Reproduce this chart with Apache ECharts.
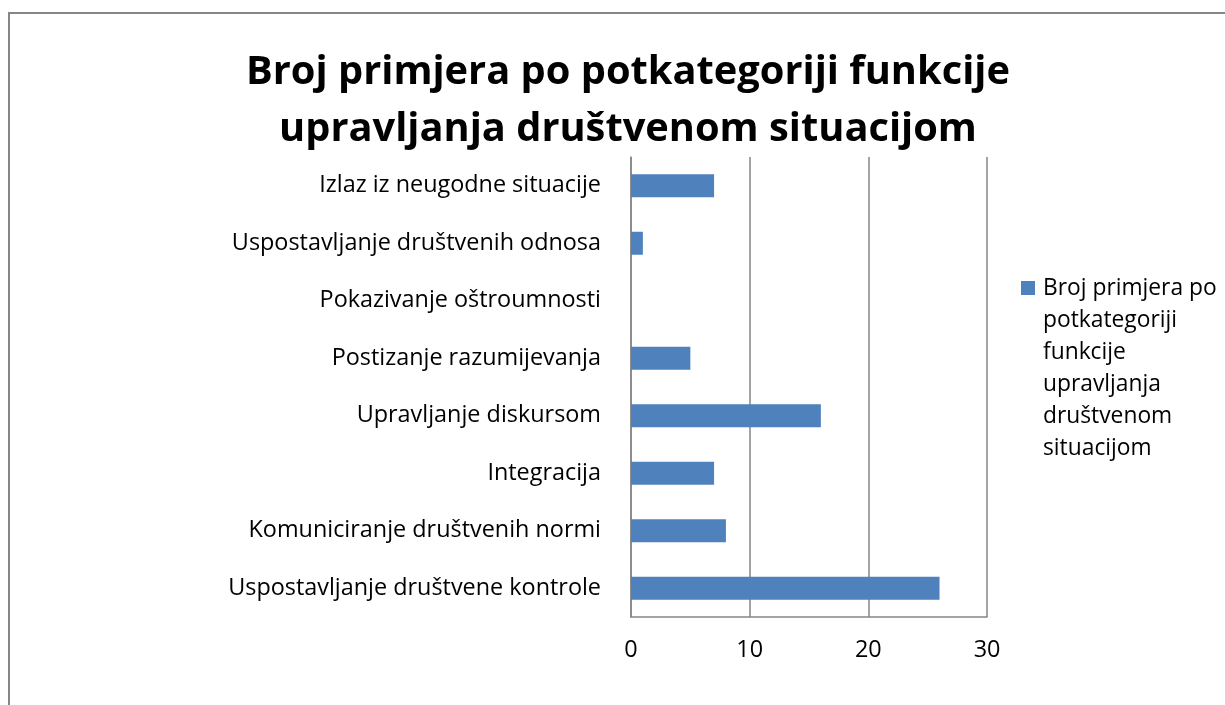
<!DOCTYPE html>
<html><head><meta charset="utf-8">
<script src="https://cdn.jsdelivr.net/npm/echarts@6/dist/echarts.min.js"></script>
<style>html,body{margin:0;padding:0;background:#fff}#c{width:1225px;height:705px}</style>
</head><body><div id="c"></div>
<script>
var categories = [
  "Izlaz iz neugodne situacije",
  "Uspostavljanje društvenih odnosa",
  "Pokazivanje oštroumnosti",
  "Postizanje razumijevanja",
  "Upravljanje diskursom",
  "Integracija",
  "Komuniciranje društvenih normi",
  "Uspostavljanje društvene kontrole"
];
var values = [7, 1, 0, 5, 16, 7, 8, 26];
var seriesName = "Broj primjera po potkategoriji funkcije upravljanja društvenom situacijom";
var titleText = "Broj primjera po potkategoriji funkcije\nupravljanja društvenom situacijom";
var legendLines = ["Broj primjera po", "potkategoriji", "funkcije", "upravljanja", "društvenom", "situacijom"];

var FONT = "Open Sans";
var LH = 32;
var legendH = LH * legendLines.length;
var chart = echarts.init(document.getElementById('c'));
chart.setOption({
  animation: false,
  backgroundColor: '#fff',
  title: {
    text: titleText,
    left: 623, textAlign: 'center', top: 39,
    textStyle: {fontFamily: FONT, fontWeight: 'bold', fontSize: 39.8, lineHeight: 57, color: '#000'}
  },
  legend: {
    left: 1021, top: 273, padding: 0,
    orient: 'vertical',
    itemWidth: 14, itemHeight: legendH,
    icon: 'path://M0,0L0,0M0,8L14,8L14,22L0,22ZM0,' + legendH + 'L0,' + legendH,
    formatter: function(){ return legendLines.join('\n'); },
    textStyle: {fontFamily: FONT, fontSize: 22.8, lineHeight: LH, color: '#000', padding: [0,0,0,3]},
    data: [seriesName]
  },
  grid: {left: 631, right: 238, top: 157, bottom: 88, containLabel: false},
  xAxis: {
    type: 'value', min: 0, max: 30, interval: 10,
    axisLine: {show: true, lineStyle: {color: '#868686', width: 1.5}},
    axisTick: {show: false},
    splitLine: {show: true, lineStyle: {color: '#868686', width: 1.5}},
    axisLabel: {fontFamily: FONT, fontSize: 23.4, color: '#000', margin: 22}
  },
  yAxis: {
    type: 'category', data: categories, inverse: true,
    axisLine: {show: true, lineStyle: {color: '#868686', width: 1.5}},
    axisTick: {show: false},
    axisLabel: {fontFamily: FONT, fontSize: 23.4, color: '#000', margin: 30}
  },
  series: [{
    name: seriesName, type: 'bar', data: values,
    barCategoryGap: '60%',
    itemStyle: {color: '#4F81BD'}
  }],
  graphic: [{
    type: 'rect', silent: true, z: -1,
    shape: {x: 9, y: 13, width: 1300, height: 800},
    style: {fill: 'none', stroke: '#868686', lineWidth: 2}
  }]
});
</script></body></html>
